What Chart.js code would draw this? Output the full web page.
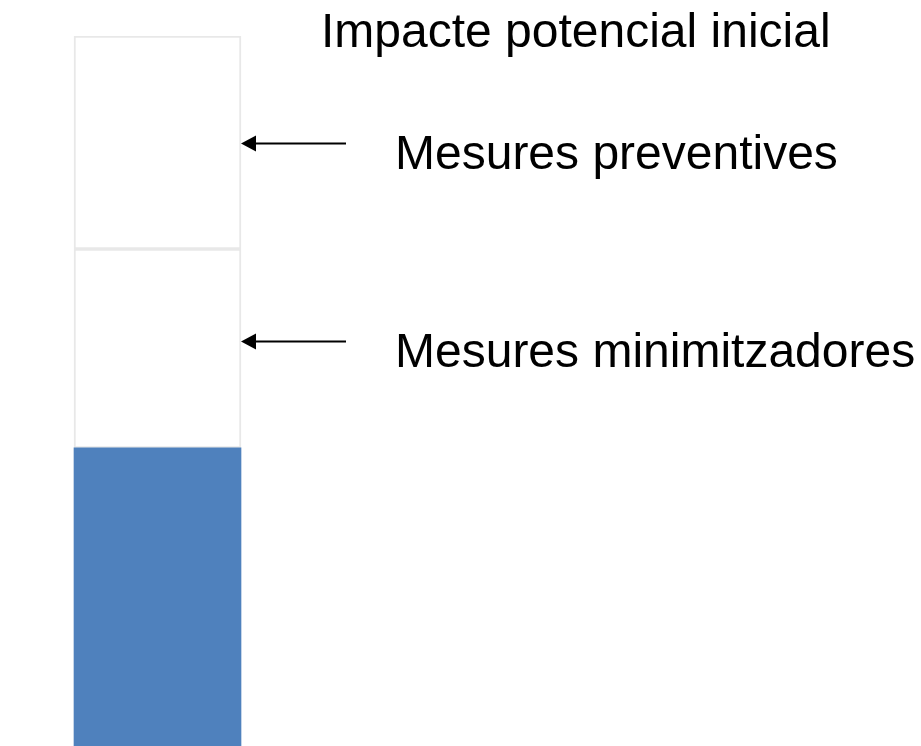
<!DOCTYPE html>
<html>
<head>
<meta charset="utf-8">
<script src="https://cdn.jsdelivr.net/npm/chart.js@4"></script>
<style>
  html, body { margin: 0; padding: 0; background: #fff; }
  #wrap { width: 921px; height: 746px; }
</style>
</head>
<body>
<div id="wrap"><canvas id="impactChart"></canvas></div>
<script>
// Data
const categories = ['Impacte'];
const segmentNames = ['Impacte residual', 'Mesures minimitzadores', 'Mesures preventives'];
const segmentValues = [42, 28, 30];
const segmentColors = ['#4f81bd', '#ffffff', '#ffffff'];
const segmentBorders = [0, 2, 2];

// labels and arrows on the right (y given in data units of the stacked axis)
const titleText = 'Impacte potencial inicial';
const arrowLabels = ['Mesures preventives', 'Mesures minimitzadores'];
const arrowLevels = [85, 57.1];

const annotationsPlugin = {
    id: 'annotations',
    afterDraw(chart) {
        const ctx = chart.ctx;
        const y = chart.scales.y;
        const barRight = 241;
        ctx.save();
        ctx.fillStyle = '#000';
        ctx.strokeStyle = '#000';
        ctx.font = '48px "Liberation Sans", Arial, sans-serif';
        ctx.textBaseline = 'alphabetic';
        ctx.textAlign = 'left';
        ctx.fillText(titleText, 321, 47);

        arrowLabels.forEach((label, i) => {
            const ay = Math.round(y.getPixelForValue(arrowLevels[i])) + 0.5;
            ctx.lineWidth = 2;
            ctx.beginPath();
            ctx.moveTo(346, ay);
            ctx.lineTo(barRight + 12, ay);
            ctx.stroke();
            ctx.beginPath();
            ctx.moveTo(barRight, ay);
            ctx.lineTo(barRight + 15, ay - 8);
            ctx.lineTo(barRight + 15, ay + 8);
            ctx.closePath();
            ctx.fill();
            ctx.fillText(label, 395, ay + 25);
        });
        ctx.restore();
    }
};

document.addEventListener('DOMContentLoaded', () => {
    const ctx = document.getElementById('impactChart').getContext('2d');
    new Chart(ctx, {
        type: 'bar',
        data: {
            labels: categories,
            datasets: segmentNames.map((name, i) => ({
                label: name,
                data: [segmentValues[i]],
                backgroundColor: segmentColors[i],
                borderColor: '#e8e8e8',
                borderWidth: segmentBorders[i],
                borderSkipped: false,
                barThickness: 167
            }))
        },
        options: {
            responsive: true,
            maintainAspectRatio: false,
            animation: false,
            layout: {
                padding: { left: 0, right: 606, top: 36, bottom: 0 }
            },
            scales: {
                x: { stacked: true, display: false, offset: true },
                y: { stacked: true, display: false, min: 0, max: 100 }
            },
            plugins: {
                legend: { display: false },
                title: { display: false },
                tooltip: { enabled: false }
            }
        },
        plugins: [annotationsPlugin]
    });
});
</script>
</body>
</html>
